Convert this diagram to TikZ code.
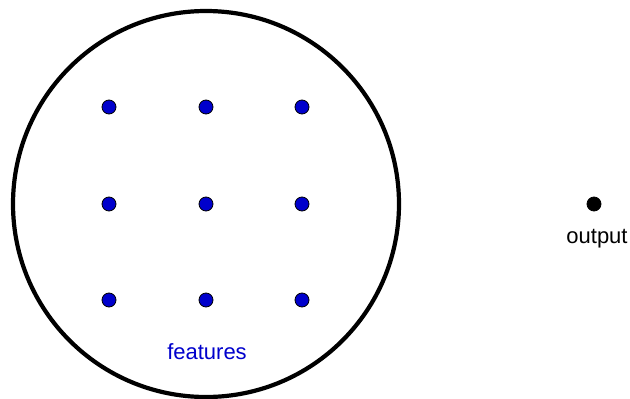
\documentclass[tikz,border=0pt]{standalone}
\usepackage{fontspec}
\setmainfont{Liberation Sans}
\usepackage{xcolor}
\usepackage{tikz}
\definecolor{featblue}{HTML}{0000CC}

\begin{document}
\begin{tikzpicture}[x=1pt, y=-1pt,
  every node/.style={font=\fontsize{22}{26}\selectfont, align=center},
  pool/.style={draw, circle, line width=4.2pt, minimum size=386pt, inner sep=0pt},
  dot/.style={draw, circle, line width=0.8pt, minimum size=14pt, inner sep=0pt, fill=#1}
]
\useasboundingbox (0,0) rectangle (630,399);

\node[pool] (set) at (206,204) {};

\node[dot=featblue] (f11) at (109,107) {};
\node[dot=featblue] (f12) at (206,107) {};
\node[dot=featblue] (f13) at (302,107) {};
\node[dot=featblue] (f21) at (109,204) {};
\node[dot=featblue] (f22) at (206,204) {};
\node[dot=featblue] (f23) at (302,204) {};
\node[dot=featblue] (f31) at (109,300) {};
\node[dot=featblue] (f32) at (206,300) {};
\node[dot=featblue] (f33) at (302,300) {};

\node[text=featblue] (flabel) at (207,352) {features};

\node[dot=black] (out) at (594,204) {};
\node (olabel) at (597,239) {output};

\end{tikzpicture}
\end{document}
